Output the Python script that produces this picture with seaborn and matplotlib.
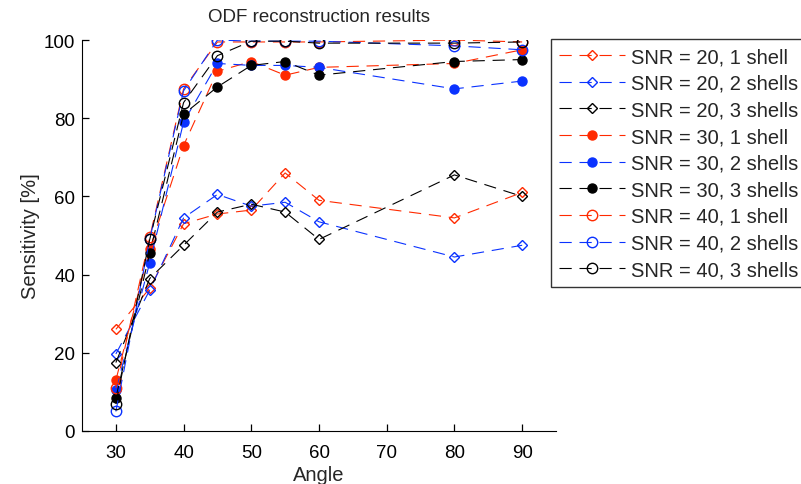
import matplotlib
matplotlib.use("Agg")
import matplotlib.pyplot as plt
import seaborn as sns
import pandas as pd

angles = [30, 35, 40, 45, 50, 55, 60, 80, 90]
snr20_1 = [26, 36.5, 53, 55.5, 56.5, 66, 59, 54.5, 61]
snr20_2 = [19.7, 36, 54.5, 60.5, 57.5, 58.5, 53.5, 44.5, 47.5]
snr20_3 = [17.5, 39, 47.5, 56, 58, 56, 49, 65.5, 60]
snr30_1 = [13, 46.5, 73, 92, 94.5, 91, 93, 94, 97.5]
snr30_2 = [10.5, 43, 79, 94, 93.5, 93.5, 93, 87.5, 89.5]
snr30_3 = [8.5, 45.5, 81, 88, 93.5, 94.5, 91, 94.5, 95]
snr40_1 = [11, 49.5, 87.5, 99.5, 99.5, 99.5, 99.5, 100, 99.5]
snr40_2 = [5, 49, 87, 100, 99.7, 99.7, 99.7, 98.5, 97.5]
snr40_3 = [7, 49, 84, 96, 99.7, 99.7, 99.2, 99.2, 99.5]

labels = ["SNR = 20, 1 shell", "SNR = 20, 2 shells", "SNR = 20, 3 shells",
          "SNR = 30, 1 shell", "SNR = 30, 2 shells", "SNR = 30, 3 shells",
          "SNR = 40, 1 shell", "SNR = 40, 2 shells", "SNR = 40, 3 shells"]
series = [snr20_1, snr20_2, snr20_3, snr30_1, snr30_2, snr30_3, snr40_1, snr40_2, snr40_3]
x_ticks = [30, 40, 50, 60, 70, 80, 90]
y_ticks = [0, 20, 40, 60, 80, 100]

sns.set_style("white")
plt.rcParams['font.family'] = ['Liberation Sans', 'DejaVu Sans']
plt.rcParams['xtick.bottom'] = True
plt.rcParams['ytick.left'] = True

RED = '#ff2a00'
BLUE = '#0a32ff'
BLACK = '#000000'
colors = [RED, BLUE, BLACK] * 3
markers = ['D'] * 3 + ['o'] * 3 + ['o'] * 3
msizes = [5.2] * 3 + [6.5] * 3 + [7.5] * 3
filled = [False] * 3 + [True] * 3 + [False] * 3

fig = plt.figure(figsize=(8.01, 4.85), dpi=100)
ax = fig.add_axes([82 / 801, 1 - 432 / 485, (556 - 82) / 801, (432 - 41) / 485])

for vals, lab, c, m, ms, f in zip(series, labels, colors, markers, msizes, filled):
    df = pd.DataFrame({"Angle": angles, "Sensitivity": vals})
    sns.lineplot(data=df, x="Angle", y="Sensitivity", ax=ax, color=c, marker=m,
                 markersize=ms, linewidth=0.8, dashes=False,
                 markerfacecolor=(c if f else 'none'), markeredgecolor=c,
                 markeredgewidth=1.0, label=lab, linestyle=(0, (11, 7)))

ax.set_xlim(25, 95)
ax.set_ylim(0, 100)
ax.set_xticks(x_ticks)
ax.set_yticks(y_ticks)
ax.tick_params(axis='both', which='major', labelsize=13.5, length=5, width=0.9,
               color='black', labelcolor='black', direction='in',
               bottom=True, left=True)
ax.tick_params(axis='x', pad=9)
ax.tick_params(axis='y', pad=5)
for s in ['top', 'right']:
    ax.spines[s].set_visible(False)
for s in ['left', 'bottom']:
    ax.spines[s].set_color('black')
    ax.spines[s].set_linewidth(0.8)
ax.set_xlabel("Angle", fontsize=14.5, labelpad=3)
ax.set_ylabel("Sensitivity [%]", fontsize=14.5, labelpad=3)
ax.set_title("ODF reconstruction results", fontsize=13.5, pad=14)

leg = ax.legend(loc='upper left', bbox_to_anchor=(551 / 801, 1 - 40 / 485),
                bbox_transform=fig.transFigure, fontsize=14.5, frameon=True,
                fancybox=False, edgecolor='black', handlelength=3.25,
                labelspacing=0.38, borderpad=0.4, handletextpad=0.33,
                borderaxespad=0)
leg.get_frame().set_linewidth(1.0)

fig.savefig("out.png", dpi=100)
